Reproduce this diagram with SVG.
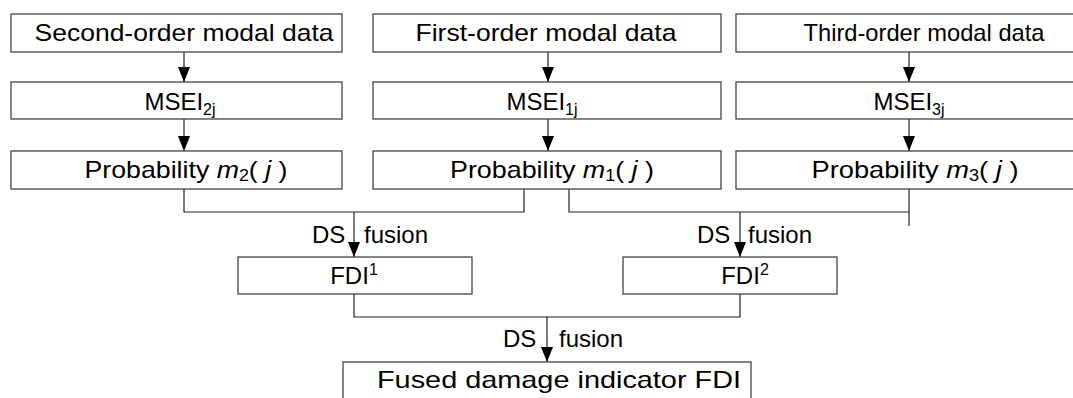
<svg xmlns="http://www.w3.org/2000/svg" width="1073" height="398" viewBox="0 0 1073 398">
<style>
rect{fill:#fff;stroke:#444;stroke-width:1.3}
text{font-family:"Liberation Sans",Arial,sans-serif;font-size:24px;fill:#000}
.c{text-anchor:middle}
.ln{fill:none;stroke:#222;stroke-width:1.2}
.s{font-size:16px}
</style>
<defs>
<marker id="ah" markerWidth="15" markerHeight="12" refX="15" refY="6" orient="auto" markerUnits="userSpaceOnUse" viewBox="0 0 15 12">
<path d="M0,0 L15,6 L0,12 Z" fill="#000"/>
</marker>
</defs>
<g id="connectors">
<line class="ln" x1="184" y1="52" x2="184" y2="82" marker-end="url(#ah)"/>
<line class="ln" x1="548" y1="52" x2="548" y2="82" marker-end="url(#ah)"/>
<line class="ln" x1="909" y1="52" x2="909" y2="82" marker-end="url(#ah)"/>
<line class="ln" x1="184" y1="119" x2="184" y2="151" marker-end="url(#ah)"/>
<line class="ln" x1="548" y1="119" x2="548" y2="151" marker-end="url(#ah)"/>
<line class="ln" x1="909" y1="119" x2="909" y2="151" marker-end="url(#ah)"/>
<path class="ln" d="M184,189 V212 H524 V189"/>
<path class="ln" d="M569,189 V212 H909 M909,189 V226"/>
<line class="ln" x1="354" y1="212" x2="354" y2="257" marker-end="url(#ah)"/>
<line class="ln" x1="740" y1="212" x2="740" y2="257" marker-end="url(#ah)"/>
<path class="ln" d="M354,294 V317 H740 V294"/>
<line class="ln" x1="547" y1="317" x2="547" y2="362" marker-end="url(#ah)"/>
</g>
<g id="lbl-ds1"><text x="312" y="243">DS <tspan x="364">fusion</tspan></text></g>
<g id="lbl-ds2"><text x="697" y="243">DS <tspan x="748">fusion</tspan></text></g>
<g id="lbl-ds3"><text x="503" y="347">DS <tspan x="559">fusion</tspan></text></g>
<g id="n-second"><rect x="11" y="14" width="331" height="38"/><text class="c" x="184" y="41" textLength="299" lengthAdjust="spacingAndGlyphs">Second-order modal data</text></g>
<g id="n-first"><rect x="373" y="14" width="348" height="38"/><text class="c" x="546" y="41" textLength="261" lengthAdjust="spacingAndGlyphs">First-order modal data</text></g>
<g id="n-third"><rect x="736" y="14" width="345" height="38"/><text class="c" x="924" y="41" textLength="241" lengthAdjust="spacingAndGlyphs">Third-order modal data</text></g>
<g id="n-msei2"><rect x="11" y="82" width="331" height="37"/><text class="c" x="180" y="110">MSEI<tspan class="s" dy="5">2j</tspan></text></g>
<g id="n-msei1"><rect x="373" y="82" width="348" height="37"/><text class="c" x="542" y="110">MSEI<tspan class="s" dy="5">1j</tspan></text></g>
<g id="n-msei3"><rect x="736" y="82" width="345" height="37"/><text class="c" x="909" y="110">MSEI<tspan class="s" dy="5">3j</tspan></text></g>
<g id="n-prob2"><rect x="11" y="151" width="331" height="38"/><text class="c" x="186" y="178" textLength="203" lengthAdjust="spacingAndGlyphs">Probability <tspan font-style="italic">m</tspan><tspan class="s" dy="3">2</tspan><tspan dy="-3">( </tspan><tspan font-style="italic">j</tspan> )</text></g>
<g id="n-prob1"><rect x="373" y="151" width="348" height="38"/><text class="c" x="552" y="178" textLength="204" lengthAdjust="spacingAndGlyphs">Probability <tspan font-style="italic">m</tspan><tspan class="s" dy="3">1</tspan><tspan dy="-3">( </tspan><tspan font-style="italic">j</tspan> )</text></g>
<g id="n-prob3"><rect x="736" y="151" width="345" height="38"/><text class="c" x="915" y="178" textLength="207" lengthAdjust="spacingAndGlyphs">Probability <tspan font-style="italic">m</tspan><tspan class="s" dy="3">3</tspan><tspan dy="-3">( </tspan><tspan font-style="italic">j</tspan> )</text></g>
<g id="n-fdi1"><rect x="238" y="257" width="234" height="37"/><text class="c" x="354" y="284">FDI<tspan class="s" dy="-9">1</tspan></text></g>
<g id="n-fdi2"><rect x="623" y="257" width="214" height="37"/><text class="c" x="745" y="284">FDI<tspan class="s" dy="-9">2</tspan></text></g>
<g id="n-fdi"><rect x="343" y="362" width="408" height="50"/><text class="c" x="559" y="388" textLength="364" lengthAdjust="spacingAndGlyphs">Fused damage indicator FDI</text></g>
</svg>
